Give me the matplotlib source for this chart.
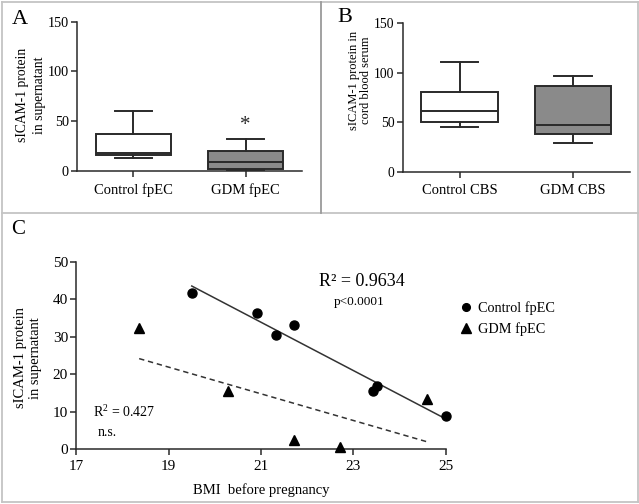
import matplotlib
matplotlib.use('Agg')
import matplotlib.pyplot as plt
import numpy as np
from matplotlib.lines import Line2D

plt.rcParams['font.family'] = ['Liberation Serif', 'DejaVu Serif']
plt.rcParams['mathtext.fontset'] = 'custom'
plt.rcParams['mathtext.rm'] = 'Liberation Serif'
plt.rcParams['mathtext.it'] = 'Liberation Serif:italic'

# ---------------- data ----------------
# Panel A: sICAM-1 in supernatant (box plot stats)
a_labels = ['Control fpEC', 'GDM fpEC']
a_whislo = [12.5, 0.5]
a_q1 = [15.5, 1.7]
a_med = [17.5, 9.1]
a_q3 = [36.6, 19.5]
a_whishi = [60.4, 32.2]
a_star_y = 45

# Panel B: sICAM-1 in cord blood serum
b_labels = ['Control CBS', 'GDM CBS']
b_whislo = [45.2, 28.7]
b_q1 = [50.0, 37.8]
b_med = [61.1, 47.5]
b_q3 = [80.6, 86.7]
b_whishi = [111.0, 97.1]

box_yticks = [0, 50, 100, 150]
box_fill = ['white', '#8a8a8a']

# Panel C: scatter BMI vs sICAM-1
c_ctrl_bmi = [19.50, 20.91, 21.32, 21.72, 23.42, 23.52, 25.00]
c_ctrl_icam = [41.6, 36.4, 30.6, 33.2, 15.5, 16.9, 8.9]
c_gdm_bmi = [18.36, 20.28, 21.72, 22.71, 24.59]
c_gdm_icam = [32.4, 15.5, 2.4, 0.5, 13.5]
c_xticks = [17, 19, 21, 23, 25]
c_yticks = [0, 10, 20, 30, 40, 50]

W, H = 639, 504
fig = plt.figure(figsize=(W / 100, H / 100), dpi=100)


def fx(px):
    return px / W


def fy(py):
    return 1 - py / H


def ax_rect(l, t, r, b):
    return [fx(l), fy(b), fx(r) - fx(l), fy(t) - fy(b)]


line_col = '#2a2a2a'


def style_axes(ax, fs):
    for s in ['top', 'right']:
        ax.spines[s].set_visible(False)
    for s in ['left', 'bottom']:
        ax.spines[s].set_color(line_col)
        ax.spines[s].set_linewidth(1.1)
    ax.tick_params(direction='out', length=4, width=1.1, color=line_col,
                   labelsize=fs, pad=2)


def box_panel(rect, labels, whislo, q1, med, q3, whishi):
    ax = fig.add_axes(rect)
    stats = []
    for i in range(len(labels)):
        stats.append(dict(label=labels[i], whislo=whislo[i], q1=q1[i],
                          med=med[i], q3=q3[i], whishi=whishi[i]))
    lp = dict(color=line_col, linewidth=1.4)
    bp = ax.bxp(stats, positions=[1, 2], widths=0.67, capwidths=0.33,
                showfliers=False, patch_artist=True,
                boxprops=dict(edgecolor=line_col, linewidth=1.4),
                whiskerprops=lp, capprops=lp,
                medianprops=dict(color=line_col, linewidth=1.4))
    for patch, c in zip(bp['boxes'], box_fill):
        patch.set_facecolor(c)
    ax.set_xlim(0.5, 2.5)
    ax.set_ylim(0, 150)
    ax.set_yticks(box_yticks)
    style_axes(ax, 10.3)
    ax.tick_params(axis='x', labelsize=10.5, pad=5)
    for sp in ax.spines.values():
        sp.set_zorder(5)
    return ax


# Panel A
axA = box_panel(ax_rect(77.3, 21.7, 301.7, 170.7), a_labels,
                a_whislo, a_q1, a_med, a_q3, a_whishi)
axA.text(2, a_star_y, '*', ha='center', va='center', fontsize=15,
         color=line_col)
fig.text(fx(31), fy(95), 'sICAM-1 protein\nin supernatant', rotation=90,
         ha='center', va='center', fontsize=9.8, linespacing=1.4,
         multialignment='center')
fig.text(fx(20), fy(19), 'A', ha='center', va='center', fontsize=16)

# Panel B
axB = box_panel(ax_rect(402.7, 23.3, 630, 171.7), b_labels,
                b_whislo, b_q1, b_med, b_q3, b_whishi)
axB.tick_params(axis='y', labelsize=9.8)
fig.text(fx(360), fy(80), 'sICAM-1 protein in\ncord blood serum',
         rotation=90, ha='center', va='center', fontsize=9,
         linespacing=1.1, multialignment='center')
fig.text(fx(345), fy(17), 'B', ha='center', va='center', fontsize=16)

# Panel C
axC = fig.add_axes(ax_rect(76.4, 262, 445.6, 449))
style_axes(axC, 11)
axC.set_xlim(17, 25)
axC.set_ylim(0, 50)
axC.set_xticks(c_xticks)
axC.set_yticks(c_yticks)
axC.tick_params(axis='x', pad=4)

hc, = axC.plot(c_ctrl_bmi, c_ctrl_icam, 'o', color='black', ms=6.5,
               clip_on=False, zorder=4, linestyle='none')
hg, = axC.plot(c_gdm_bmi, c_gdm_icam, '^', color='black', ms=7.8,
               clip_on=False, zorder=4, linestyle='none')

k1, b1 = np.polyfit(c_ctrl_bmi, c_ctrl_icam, 1)
xs1 = np.array([min(c_ctrl_bmi), max(c_ctrl_bmi)])
axC.plot(xs1, k1 * xs1 + b1, '-', color='#333333', lw=1.1, zorder=3)
k2, b2 = np.polyfit(c_gdm_bmi, c_gdm_icam, 1)
xs2 = np.array([min(c_gdm_bmi), max(c_gdm_bmi)])
axC.plot(xs2, k2 * xs2 + b2, '--', color='#333333', lw=1.1,
         dashes=(3.5, 2.5), zorder=3)

axC.set_xlabel('BMI  before pregnancy', fontsize=10.5, labelpad=7)
fig.text(fx(28), fy(358), 'sICAM-1 protein\nin supernatant', rotation=90,
         ha='center', va='center', fontsize=10.5, linespacing=1.25,
         multialignment='center')
fig.text(fx(362), fy(281), 'R² = 0.9634', ha='center', va='center',
         fontsize=13)
fig.text(fx(359), fy(302), 'p<0.0001', ha='center', va='center',
         fontsize=9.5)
fig.text(fx(93), fy(412), 'R$^2$ = 0.427', ha='left', va='center',
         fontsize=10)
fig.text(fx(98), fy(433), 'n.s.', ha='left', va='center', fontsize=10)
fig.text(fx(18), fy(230), 'C', ha='center', va='center', fontsize=15)

fig.legend([hc, hg], ['Control fpEC', 'GDM fpEC'], loc='upper left',
           bbox_to_anchor=(fx(460), fy(301)), frameon=False, fontsize=10.3,
           handlelength=0.8, handletextpad=0.45, labelspacing=0.5,
           borderpad=0, borderaxespad=0, markerscale=0.85)

# panel borders
bc = '#c4c4c4'
for (x0, y0, x1, y1, c) in [
    (1.5, 1.5, 637.5, 1.5, bc), (1.5, 501.5, 637.5, 501.5, bc),
    (1.5, 1.5, 1.5, 501.5, bc), (637.5, 1.5, 637.5, 501.5, bc),
    (1.5, 213, 637.5, 213, bc), (321, 1.5, 321, 213, '#9a9a9a')]:
    fig.add_artist(Line2D([fx(x0), fx(x1)], [fy(y0), fy(y1)],
                          transform=fig.transFigure, color=c, lw=1.3))

fig.savefig('out.png', dpi=100)
